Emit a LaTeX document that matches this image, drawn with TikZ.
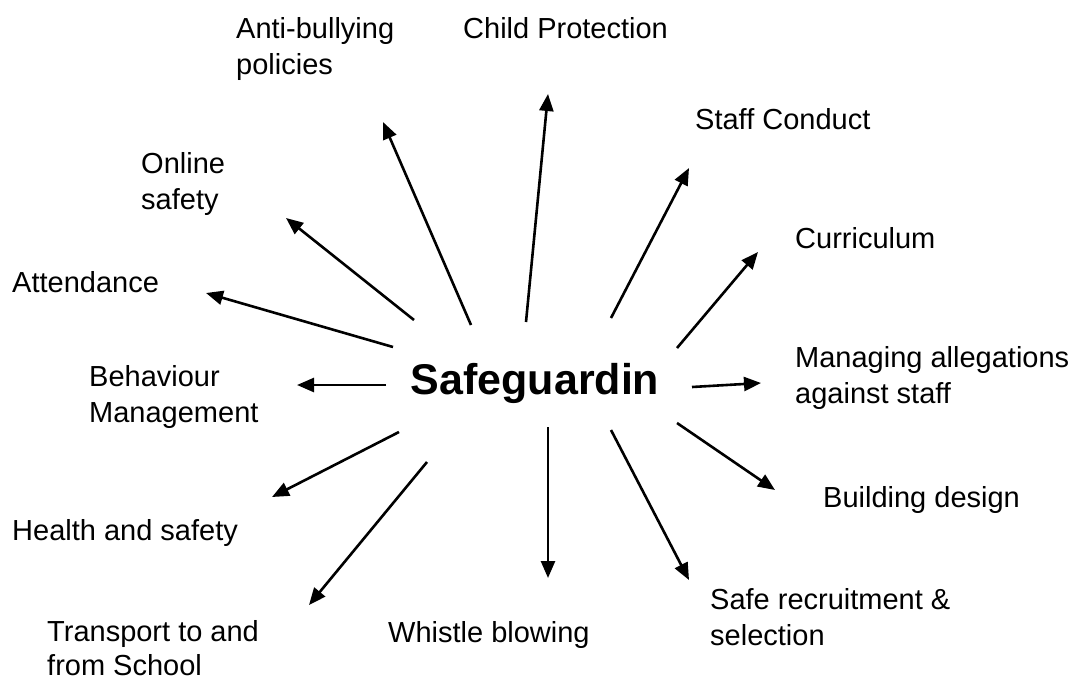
\documentclass[tikz,border=0pt]{standalone}
\usepackage{fontspec}
\setmainfont{Liberation Sans}
\usetikzlibrary{arrows.meta}
\begin{document}
\begin{tikzpicture}[x=1pt,y=-1pt,
  lbl/.style={anchor=base west,inner sep=0pt,align=left,font=\fontsize{29}{36}\selectfont},
  arr/.style={line width=2.6pt,-{Triangle[length=17pt,width=14pt]}}]
\useasboundingbox (0,0) rectangle (1073,681);
\node[inner sep=0pt,font=\fontsize{43}{50}\selectfont\bfseries] (c) at (535,383) {Safeguardin};
% labels (base = baseline of last line)
\node[lbl] (l1) at (236,74) {Anti-bullying\\policies};
\node[lbl] (l2) at (463,38) {Child Protection};
\node[lbl] (l3) at (695,129) {Staff Conduct};
\node[lbl] (l4) at (141,209) {Online\\safety};
\node[lbl] (l5) at (795,248) {Curriculum};
\node[lbl] (l6) at (12,292) {Attendance};
\node[lbl] (l7) at (89,422) {Behaviour\\Management};
\node[lbl] (l8) at (795,403) {Managing allegations\\against staff};
\node[lbl] (l9) at (823,507) {Building design};
\node[lbl] (l10) at (12,540) {Health and safety};
\node[lbl,font=\fontsize{29}{34}\selectfont] (l11) at (47,675) {Transport to and\\from School};
\node[lbl] (l12) at (388,642) {Whistle blowing};
\node[lbl] (l13) at (710,645) {Safe recruitment \&\\selection};
% arrow ends
\coordinate (s1) at (471,325); \coordinate (t1) at (383,122);
\coordinate (s2) at (526,322); \coordinate (t2) at (548,94);
\coordinate (s3) at (611,318); \coordinate (t3) at (689,168);
\coordinate (s4) at (414,320); \coordinate (t4) at (286,218);
\coordinate (s5) at (677,348); \coordinate (t5) at (758,252);
\coordinate (s6) at (393,347); \coordinate (t6) at (206,293);
\coordinate (s7) at (386,385); \coordinate (t7) at (297,385);
\coordinate (s8) at (692,387); \coordinate (t8) at (761,383);
\coordinate (s9) at (677,423); \coordinate (t9) at (775,490);
\coordinate (s10) at (399,432); \coordinate (t10) at (272,497);
\coordinate (s11) at (427,462); \coordinate (t11) at (309,605);
\coordinate (s12) at (548,427); \coordinate (t12) at (548,578);
\coordinate (s13) at (611,430); \coordinate (t13) at (689,580);
\foreach \i in {1,...,13} {\draw[arr] (s\i) -- (t\i);}
\end{tikzpicture}
\end{document}
